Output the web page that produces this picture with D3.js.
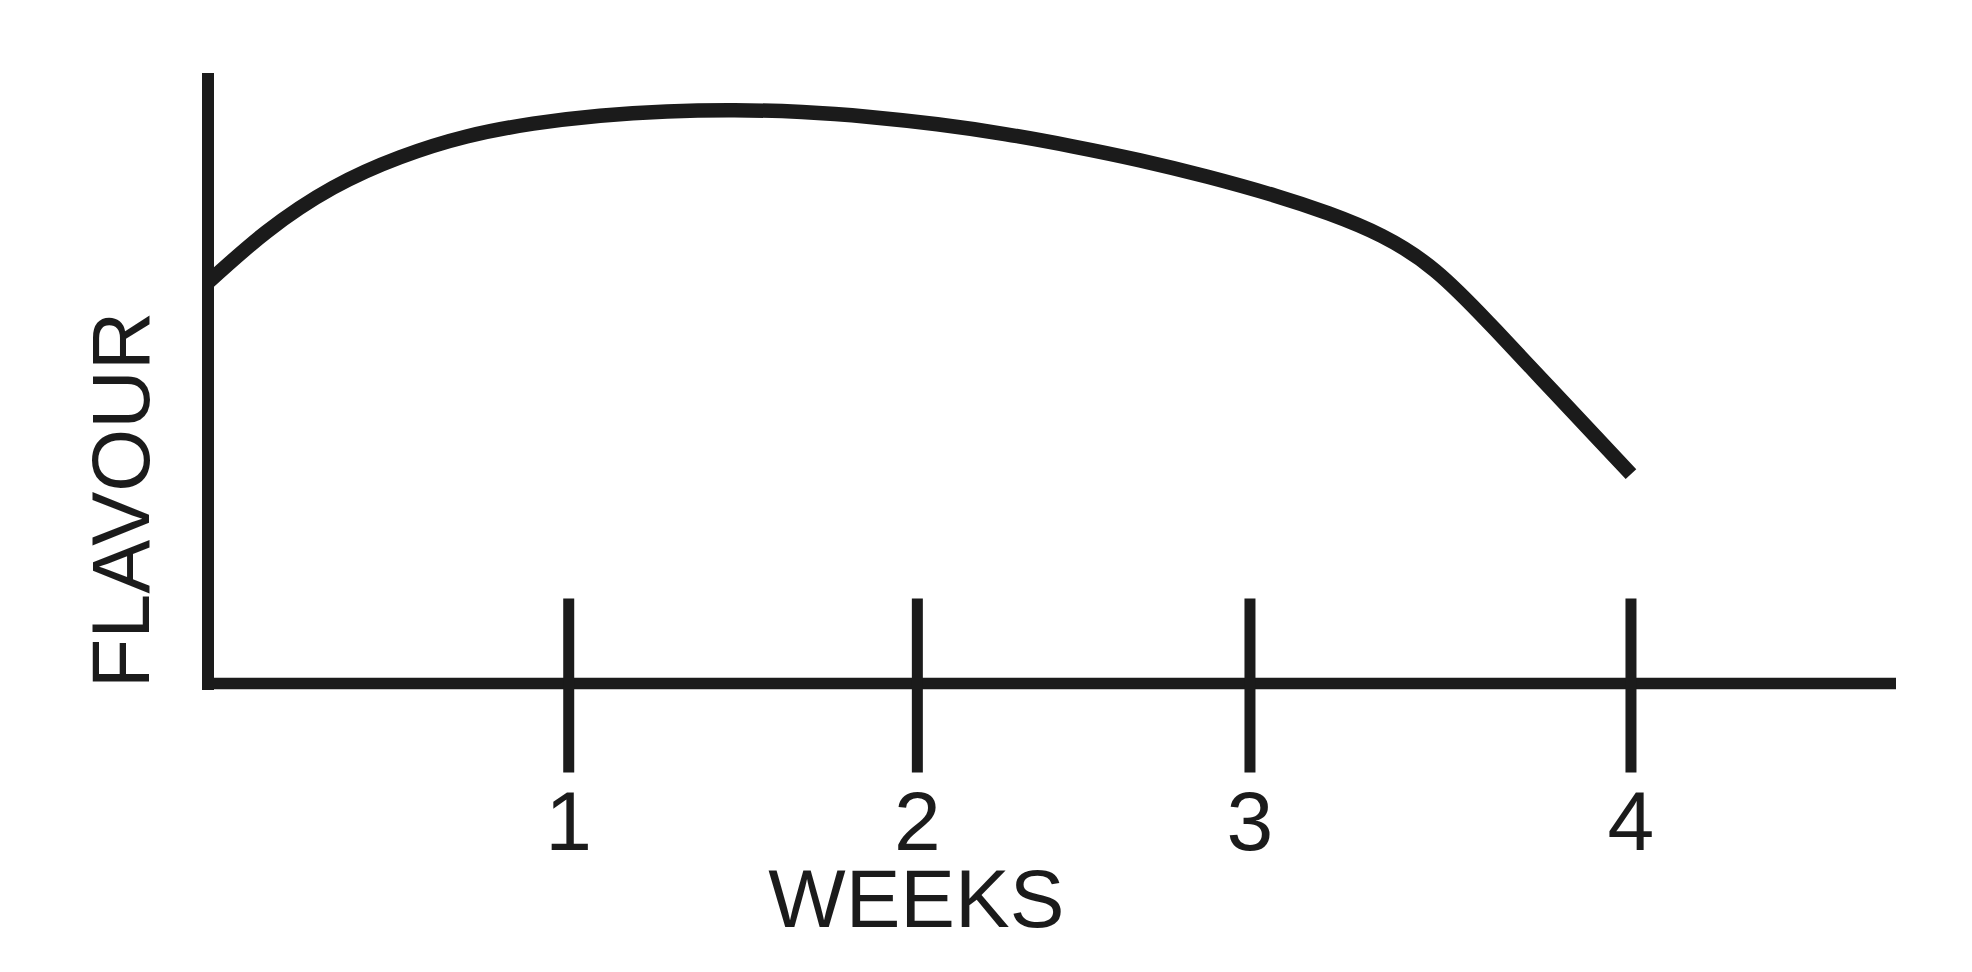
<!DOCTYPE html>
<html><head><meta charset="utf-8">
<script src="https://cdn.jsdelivr.net/npm/d3@7"></script>
<style>html,body{margin:0;padding:0;background:#fff;} svg{display:block}</style>
</head><body>
<script>
// ---- data ----
const weeks   = [0, 0.165, 0.351, 0.540, 0.727, 0.914, 1.102, 1.29, 1.48, 1.67, 1.86, 2.05, 2.24, 2.43, 2.62, 2.81, 3.00, 3.15, 3.30, 3.45, 3.60, 3.75, 3.90, 4.0];
const flavour = [6.57, 7.40, 8.12, 8.62, 8.96, 9.17, 9.30, 9.37, 9.39, 9.36, 9.28, 9.16, 9.00, 8.80, 8.57, 8.30, 7.99, 7.70, 7.33, 6.76, 5.91, 4.98, 4.05, 3.43];
const tickWeeks  = [1.014, 1.994, 2.929, 4.0];
const tickLabels = ["1", "2", "3", "4"];
const xTitle = "WEEKS";
const yTitle = "FLAVOUR";
const xMax = 4.745, yMax = 10;

// ---- layout ----
const W = 1972, H = 972;
const ink = "#1b1b1b";
const font = "'Liberation Sans', Arial, Helvetica, sans-serif";

const svg = d3.select("body").append("svg").attr("width", W).attr("height", H);

const x = d3.scaleLinear().domain([0, xMax]).range([208, 1896]);
const y = d3.scaleLinear().domain([0, yMax]).range([683.5, 73]);

const pts = weeks.map((w, i) => [w, flavour[i]]);

// curve
const line = d3.line().x(d => x(d[0])).y(d => y(d[1])).curve(d3.curveNatural);
svg.append("path").datum(pts)
  .attr("d", line)
  .attr("fill", "none")
  .attr("stroke", ink)
  .attr("stroke-width", 14.5)
  .attr("stroke-linecap", "butt")
  .attr("stroke-linejoin", "round");

// x axis line
svg.append("line")
  .attr("x1", x(0) - 6).attr("x2", x(xMax))
  .attr("y1", y(0)).attr("y2", y(0))
  .attr("stroke", ink).attr("stroke-width", 11.5);

// y axis line
svg.append("line")
  .attr("x1", x(0)).attr("x2", x(0))
  .attr("y1", y(0) + 6.5).attr("y2", y(yMax))
  .attr("stroke", ink).attr("stroke-width", 12);

// ticks
svg.selectAll("line.tick").data(tickWeeks).join("line")
  .attr("class", "tick")
  .attr("x1", d => x(d)).attr("x2", d => x(d))
  .attr("y1", y(0) - 85).attr("y2", y(0) + 89)
  .attr("stroke", ink).attr("stroke-width", 11);

// tick labels
svg.selectAll("text.tl").data(tickWeeks).join("text")
  .attr("class", "tl")
  .attr("x", d => x(d))
  .attr("y", y(0) + 166)
  .attr("text-anchor", "middle")
  .attr("font-family", font)
  .attr("font-size", 84)
  .attr("fill", ink)
  .text((d, i) => tickLabels[i]);

// x title
svg.append("text")
  .attr("x", x(tickWeeks[1]) - 1)
  .attr("y", 927)
  .attr("text-anchor", "middle")
  .attr("font-family", font)
  .attr("font-size", 82)
  .attr("fill", ink)
  .text(xTitle);

// y title
svg.append("text")
  .attr("transform", "translate(149,500) rotate(-90)")
  .attr("text-anchor", "middle")
  .attr("font-family", font)
  .attr("font-size", 81)
  .attr("fill", ink)
  .text(yTitle);
</script>
</body></html>
